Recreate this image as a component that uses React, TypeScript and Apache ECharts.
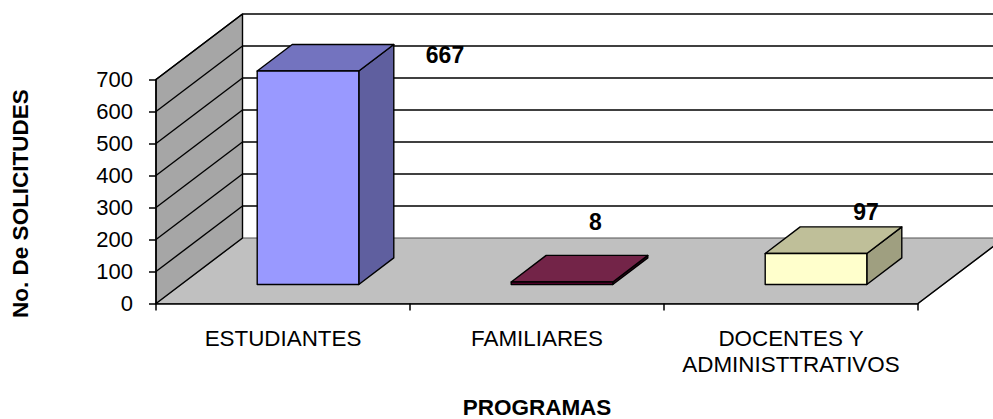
import React, { useEffect, useRef } from "react";
import * as echarts from "echarts";

const categories = ["ESTUDIANTES", "FAMILIARES", "DOCENTES Y\nADMINISTTRATIVOS"];
const values = [667, 8, 97];
const yTicks = [0, 100, 200, 300, 400, 500, 600, 700];
const xTitle = "PROGRAMAS";
const yTitle = "No. De SOLICITUDES";
const frontColors = ["#9999FF", "#660033", "#FFFFCC"];
const topColors = ["#7373BF", "#732448", "#BFBF99"];
const sideColors = ["#5F5F9F", "#40001F", "#9F9F80"];

const FONT = '"Liberation Sans", Arial, sans-serif';
const DX = 86.5;
const DY = 65.5;

function poly(points: number[][], fill: string, stroke: string, lineWidth = 1.4) {
  return { type: "polygon", shape: { points }, style: { fill, stroke, lineWidth, lineJoin: "round" } };
}
function seg(a: number[], b: number[], stroke = "#000", lineWidth = 1.4) {
  return { type: "line", shape: { x1: a[0], y1: a[1], x2: b[0], y2: b[1] }, style: { stroke, lineWidth } };
}

export default function App() {
  const ref = useRef<HTMLDivElement>(null);
  useEffect(() => {
    const chart = echarts.init(ref.current!, undefined, { renderer: "svg" });
    const labelShift = [[137, -16], [33.5, -60], [50, -41]];

    const renderRoom = (params: any, api: any) => {
      const band = api.size([1, 0])[0];
      const o = api.coord([0, 0]);
      const left = o[0] - band / 2;
      const right = left + band * 3;
      const y0 = o[1];
      const yTop = api.coord([0, 700])[1];
      return {
        type: "group",
        children: [
          poly([[left, y0], [right, y0], [right + DX, y0 - DY], [left + DX, y0 - DY]], "#C0C0C0", "#555", 1.2),
          poly([[left, y0], [left + DX, y0 - DY], [left + DX, yTop - DY], [left, yTop]], "#A6A6A6", "#000"),
          seg([right, y0], [right + DX, y0 - DY], "#000"),
          ...yTicks.slice(1).map((t) => {
            const y = api.coord([0, t])[1];
            return {
              type: "group",
              children: [
                seg([left, y], [left + DX, y - DY]),
                seg([left + DX, y - DY], [right + DX, y - DY]),
              ],
            };
          }),
        ],
      };
    };

    const renderBar = (params: any, api: any) => {
      const i = params.dataIndex;
      const band = api.size([1, 0])[0];
      const c = api.coord([i, 0]);
      const t = api.coord([i, api.value(1)]);
      const offX = 25;
      const offY = 19;
      const w = band * 0.4;
      const dx = 35;
      const dy = 26.6;
      const x0 = c[0] + offX - w / 2;
      const x1 = x0 + w;
      const yb = c[1] - offY;
      const yt = t[1] - offY;
      const s = labelShift[i];
      return {
        type: "group",
        children: [
          poly([[x1, yb], [x1 + dx, yb - dy], [x1 + dx, yt - dy], [x1, yt]], sideColors[i], "#000"),
          poly([[x0, yt], [x1, yt], [x1 + dx, yt - dy], [x0 + dx, yt - dy]], topColors[i], "#000"),
          poly([[x0, yb], [x1, yb], [x1, yt], [x0, yt]], frontColors[i], "#000"),
          {
            type: "text",
            style: {
              x: c[0] + offX + s[0],
              y: yt + s[1],
              text: String(api.value(1)),
              fill: "#000",
              font: `bold 23px ${FONT}`,
              textAlign: "center",
              textVerticalAlign: "middle",
            },
          },
        ],
      };
    };

    chart.setOption({
      animation: false,
      grid: { left: 156, top: 79.5, width: 762, height: 224, containLabel: false, outerBoundsMode: "none" },
      xAxis: {
        type: "category",
        data: categories,
        z: 6,
        name: xTitle,
        nameLocation: "middle",
        nameGap: 92,
        nameTextStyle: { fontFamily: FONT, fontWeight: "bold", fontSize: 22.5, color: "#000" },
        axisLine: { show: true, lineStyle: { color: "#000", width: 1.5 } },
        axisTick: { show: true, alignWithLabel: false, length: 7, lineStyle: { color: "#000", width: 1.5 } },
        axisLabel: { color: "#000", fontFamily: FONT, fontSize: 22.4, margin: 22, lineHeight: 26, interval: 0 },
      },
      yAxis: {
        type: "value",
        min: 0,
        max: 700,
        interval: 100,
        z: 6,
        name: yTitle,
        nameLocation: "middle",
        nameGap: 124,
        nameTextStyle: { fontFamily: FONT, fontWeight: "bold", fontSize: 22.5, color: "#000", padding: [0, 24, 0, 0] },
        splitLine: { show: false },
        axisLine: { show: true, lineStyle: { color: "#000", width: 1.5 } },
        axisTick: { show: true, length: 7, lineStyle: { color: "#000", width: 1.5 } },
        axisLabel: { color: "#000", fontFamily: FONT, fontSize: 22, margin: 23 },
      },
      series: [
        { type: "custom", name: "room", z: 1, silent: true, data: [[0, 0]], renderItem: renderRoom },
        {
          type: "custom",
          name: "bars",
          z: 3,
          silent: true,
          data: values.map((v, i) => [i, v]),
          encode: { x: 0, y: 1 },
          renderItem: renderBar,
        },
      ],
    });
    return () => chart.dispose();
  }, []);
  return <div ref={ref} style={{ position: "fixed", left: 0, top: 0, width: 993, height: 419, background: "#fff" }} />;
}
